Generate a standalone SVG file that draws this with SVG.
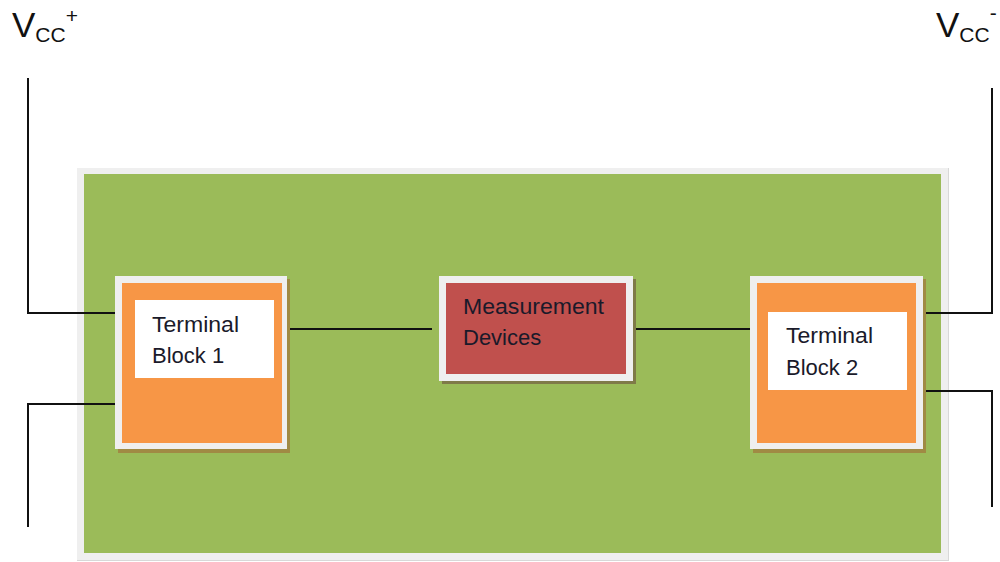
<svg xmlns="http://www.w3.org/2000/svg" width="1000" height="562" viewBox="0 0 1000 562">
<style>
.frame{fill:#efefef}
.shadow{fill:#a08a44}
.wire{fill:none;stroke:#111;stroke-width:2}
.lbl{font-family:"Liberation Sans",Arial,sans-serif;font-size:22px;fill:#1a1a2a}
.vcc{font-family:"Liberation Sans",Arial,sans-serif;fill:#111}
</style>
<rect width="1000" height="562" fill="#ffffff"/>
<g id="board">
<rect x="77" y="168" width="872" height="393" fill="#d8d8d8"/>
<rect class="frame" x="77" y="168" width="871" height="392"/>
<rect x="84" y="174" width="857" height="379" fill="#9bbb59"/>
</g>
<g id="vcc-plus">
<text class="vcc" x="12" y="37" font-size="35">V<tspan font-size="21" dy="5">CC</tspan><tspan font-size="21" dy="-19">+</tspan></text>
</g>
<g id="vcc-minus">
<text class="vcc" x="936" y="37" font-size="35">V<tspan font-size="21" dy="5">CC</tspan><tspan font-size="21" dy="-22">-</tspan></text>
</g>
<g id="connectors">
<polyline class="wire" points="28,78 28,313 119,313"/>
<polyline class="wire" points="28,527 28,404 119,404"/>
<line class="wire" x1="284" y1="329" x2="432" y2="329"/>
<line class="wire" x1="633" y1="329" x2="755" y2="329"/>
<polyline class="wire" points="918,313 992,313 992,88"/>
<polyline class="wire" points="918,391 992,391 992,507"/>
</g>
<g id="terminal-block-1">
<rect class="shadow" x="118" y="279" width="172" height="174"/>
<rect class="frame" x="115" y="276" width="172" height="173"/>
<rect x="122" y="283" width="160" height="160" fill="#f79646"/>
<rect x="135" y="300" width="139" height="78" fill="#ffffff"/>
<text class="lbl" x="152" y="332" textLength="87" lengthAdjust="spacingAndGlyphs">Terminal</text>
<text class="lbl" x="152" y="363">Block 1</text>
</g>
<g id="measurement-devices">
<rect x="442" y="279" width="194" height="105" fill="#7f7a48"/>
<rect class="frame" x="439" y="276" width="194" height="105"/>
<rect x="446" y="283" width="180" height="91" fill="#c0504d"/>
<text class="lbl" x="463" y="314" textLength="141" lengthAdjust="spacingAndGlyphs">Measurement</text>
<text class="lbl" x="463" y="345">Devices</text>
</g>
<g id="terminal-block-2">
<rect class="shadow" x="753" y="279" width="173" height="174"/>
<rect class="frame" x="750" y="276" width="173" height="173"/>
<rect x="757" y="283" width="159" height="160" fill="#f79646"/>
<rect x="768" y="312" width="139" height="78" fill="#ffffff"/>
<text class="lbl" x="786" y="343" textLength="87" lengthAdjust="spacingAndGlyphs">Terminal</text>
<text class="lbl" x="786" y="375">Block 2</text>
</g>
</svg>
